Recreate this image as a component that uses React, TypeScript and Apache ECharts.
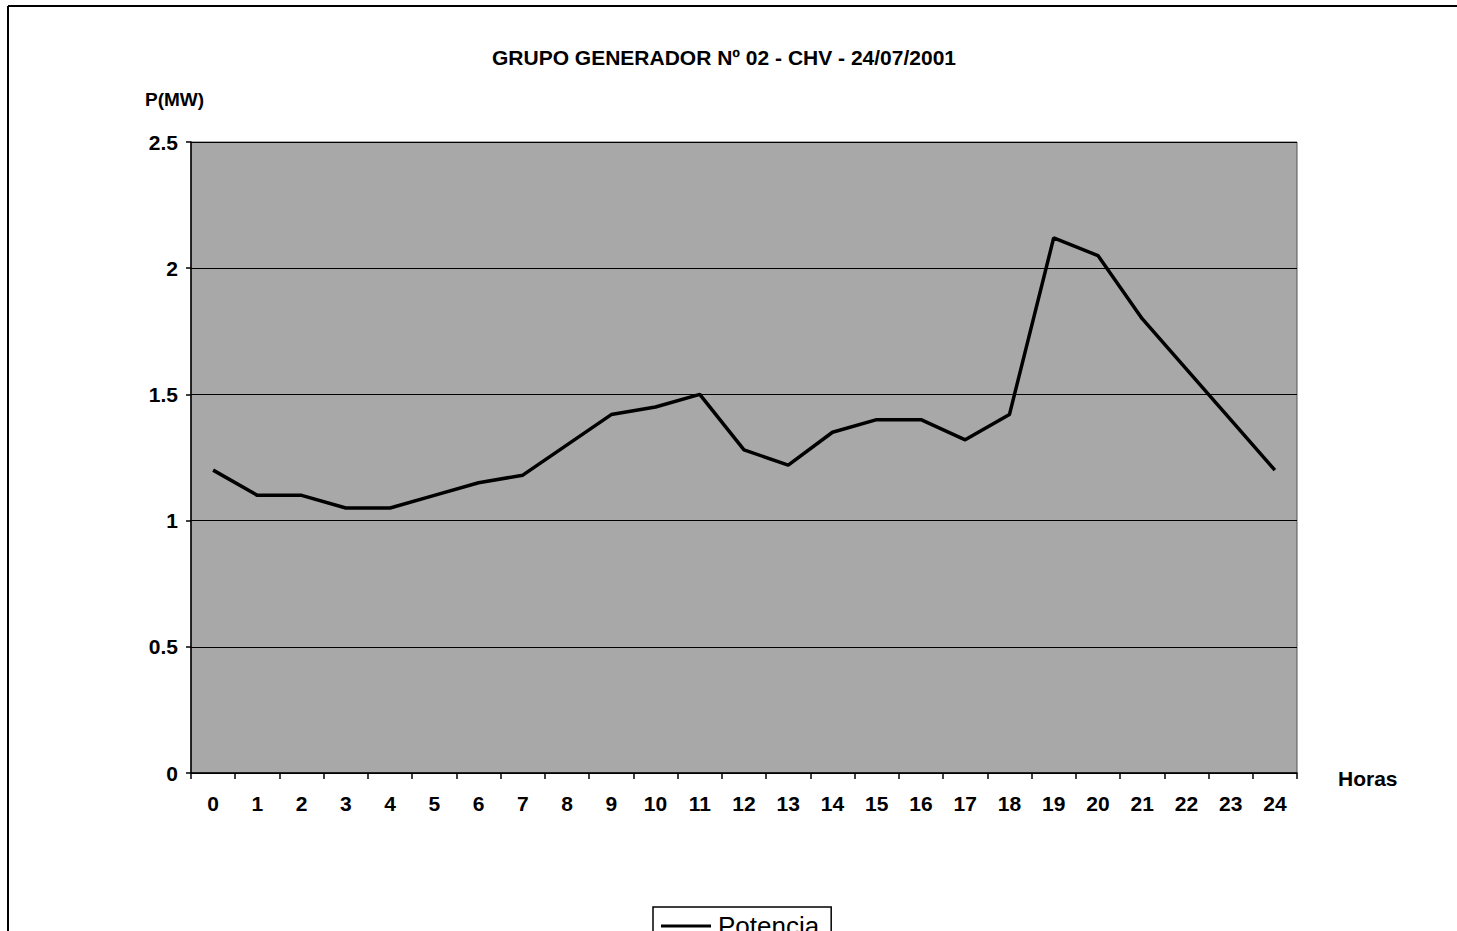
import React, { useEffect, useRef } from "react";
import * as echarts from "echarts";

const hours = ["0","1","2","3","4","5","6","7","8","9","10","11","12","13","14","15","16","17","18","19","20","21","22","23","24"];
const potencia = [1.2, 1.1, 1.1, 1.05, 1.05, 1.1, 1.15, 1.18, 1.3, 1.42, 1.45, 1.5, 1.28, 1.22, 1.35, 1.4, 1.4, 1.32, 1.42, 2.12, 2.05, 1.8, 1.6, 1.4, 1.2];
const titleText = "GRUPO GENERADOR Nº 02 - CHV - 24/07/2001";
const yAxisTitle = "P(MW)";
const xAxisTitle = "Horas";
const seriesName = "Potencia";

export default function App() {
  const ref = useRef<HTMLDivElement>(null);
  useEffect(() => {
    const chart = echarts.init(ref.current!, null, { renderer: "svg" });
    const font = "Arial, 'Liberation Sans', sans-serif";
    chart.setOption({
      animation: false,
      backgroundColor: "#ffffff",
      textStyle: { fontFamily: font },
      title: {
        text: titleText,
        left: 719,
        textAlign: "center",
        top: 42,
        textStyle: { fontSize: 21, fontWeight: "bold", color: "#000", fontFamily: font },
      },
      graphic: [
        {
          type: "line",
          shape: { x1: 8, y1: 6, x2: 1457, y2: 6 },
          style: { stroke: "#000", lineWidth: 2 },
          silent: true,
        },
        {
          type: "line",
          shape: { x1: 8, y1: 6, x2: 8, y2: 931 },
          style: { stroke: "#000", lineWidth: 2 },
          silent: true,
        },
        {
          type: "text",
          x: 145,
          y: 90,
          style: { text: yAxisTitle, font: `bold 19px ${font}`, fill: "#000" },
        },
        {
          type: "text",
          x: 1338,
          y: 768,
          style: { text: xAxisTitle, font: `bold 21px ${font}`, fill: "#000" },
        },
      ],
      legend: {
        left: 653,
        top: 907,
        orient: "horizontal",
        itemWidth: 50,
        itemHeight: 3,
        itemGap: 4,
        padding: [6, 12, 6, 8],
        borderColor: "#000",
        borderWidth: 1.5,
        borderRadius: 0,
        icon: "rect",
        data: [{ name: seriesName, itemStyle: { color: "#000" } }],
        textStyle: { fontSize: 26, color: "#000", fontFamily: font, padding: [0, 0, 0, 2] },
      },
      grid: {
        left: 191,
        right: 160,
        top: 142,
        bottom: 158,
        show: true,
        backgroundColor: "#a8a8a8",
        borderColor: "#555",
        borderWidth: 1,
        containLabel: false,
      },
      xAxis: {
        type: "category",
        data: hours,
        boundaryGap: true,
        axisLine: { show: true, lineStyle: { color: "#000", width: 1.5 } },
        axisTick: { show: true, interval: 0, length: 6, alignWithLabel: false, lineStyle: { color: "#000", width: 1.5 } },
        axisLabel: { interval: 0, margin: 20, fontSize: 21, fontWeight: "bold", color: "#000", fontFamily: font },
        splitLine: { show: false },
      },
      yAxis: {
        type: "value",
        min: 0,
        max: 2.5,
        interval: 0.5,
        axisLine: { show: true, lineStyle: { color: "#000", width: 1.5 } },
        axisTick: { show: true, length: 5, lineStyle: { color: "#000", width: 1.5 } },
        axisLabel: { margin: 13, fontSize: 21, fontWeight: "bold", color: "#000", fontFamily: font },
        splitLine: { show: true, lineStyle: { color: "#000", width: 1 } },
      },
      series: [
        {
          name: seriesName,
          type: "line",
          data: potencia,
          showSymbol: false,
          symbol: "none",
          lineStyle: { color: "#000", width: 3.5 },
          itemStyle: { color: "#000" },
        },
      ],
    });
    return () => chart.dispose();
  }, []);
  return (
    <div
      ref={ref}
      style={{ position: "fixed", left: 0, top: 0, width: 1457, height: 931 }}
    />
  );
}
